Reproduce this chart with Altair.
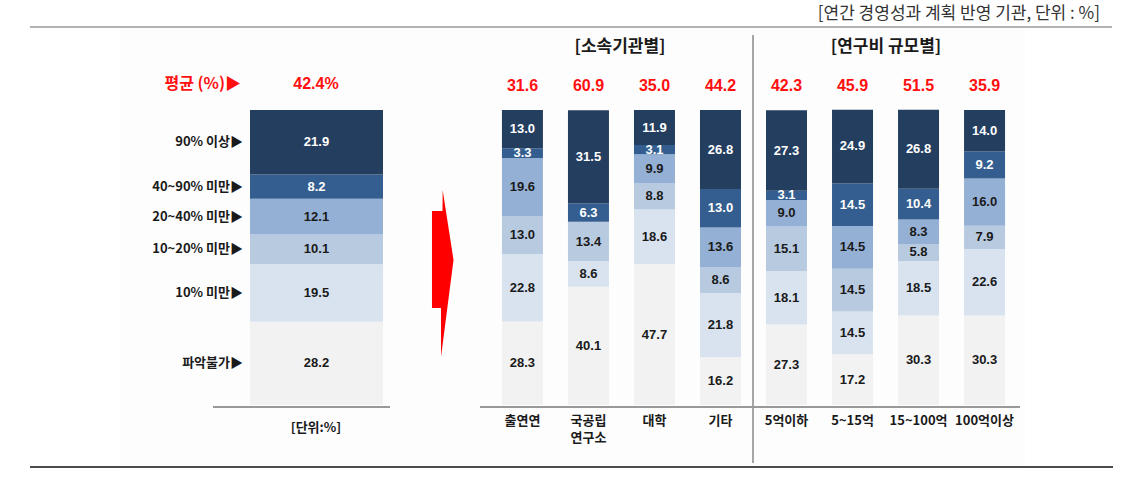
import altair as alt
import pandas as pd

# ---------------- data ----------------
levels = ["파악불가", "10% 미만", "10~20% 미만", "20~40% 미만", "40~90% 미만", "90% 이상"]  # bottom -> top
level_colors = ["#F2F2F2", "#D9E3F0", "#B8CADF", "#95B0D5", "#345E8F", "#243E5F"]

overall_values = [28.2, 19.5, 10.1, 12.1, 8.2, 21.9]
overall_avg = "42.4%"

orgs = ["출연연", "국공립연구소", "대학", "기타", "5억이하", "5~15억", "15~100억", "100억이상"]
org_labels = ["출연연", "국공립\n연구소", "대학", "기타", "5억이하", "5~15억", "15~100억", "100억이상"]
org_avgs = ["31.6", "60.9", "35.0", "44.2", "42.3", "45.9", "51.5", "35.9"]

v_chulyeon = [28.3, 22.8, 13.0, 19.6, 3.3, 13.0]
v_gukgong = [40.1, 8.6, 13.4, 0.0, 6.3, 31.5]
v_daehak = [47.7, 18.6, 8.8, 9.9, 3.1, 11.9]
v_gita = [16.2, 21.8, 8.6, 13.6, 13.0, 26.8]
v_5eok = [27.3, 18.1, 15.1, 9.0, 3.1, 27.3]
v_5_15 = [17.2, 14.5, 14.5, 14.5, 14.5, 24.9]
v_15_100 = [30.3, 18.5, 5.8, 8.3, 10.4, 26.8]
v_100 = [30.3, 22.6, 7.9, 16.0, 9.2, 14.0]
org_values = [v_chulyeon, v_gukgong, v_daehak, v_gita, v_5eok, v_5_15, v_15_100, v_100]

title_text = "[연간 경영성과 계획 반영 기관, 단위 : %]"
group_titles = ["[소속기관별]", "[연구비 규모별]"]

# ---------------- tables ----------------
left_df = pd.DataFrame({
    "grp": ["전체"] * len(levels),
    "level": levels,
    "order": list(range(len(levels))),
    "value": overall_values,
})
left_df["lab"] = [l + "▶" for l in levels]

rows = []
for o, vals in zip(orgs, org_values):
    for i, (lvl, v) in enumerate(zip(levels, vals)):
        rows.append({"org": o, "level": lvl, "order": i, "value": v})
right_df = pd.DataFrame(rows)
org_df = pd.DataFrame({"org": orgs, "label": org_labels, "avg": org_avgs})

FONT = "Liberation Sans, Noto Sans CJK KR, sans-serif"
KFONT = "Noto Sans CJK KR, Liberation Sans, sans-serif"

yscale = alt.Scale(domain=[0, 100], range=[405, 110], nice=False, zero=True)
color_scale = alt.Scale(domain=levels, range=level_colors)
lx = alt.Scale(type="band", domain=["전체"], range=[250, 383], paddingInner=0, paddingOuter=0)
rx = alt.Scale(type="band", domain=orgs, range=[480, 1027], paddingInner=0.38, paddingOuter=0.333)

dummy = alt.Data(values=[{"a": 1}])

def rule(x1, x2, y1, y2, color, w):
    return alt.Chart(dummy).mark_rule(color=color, strokeWidth=w).encode(
        x=alt.value(x1), x2=alt.value(x2), y=alt.value(y1), y2=alt.value(y2))

def label(txt, x, y, size, color="#1a1a1a", weight="bold", align="center", font=KFONT):
    return alt.Chart(dummy).mark_text(
        text=txt, fontSize=size, fontWeight=weight, color=color, align=align,
        baseline="middle", font=font).encode(x=alt.value(x), y=alt.value(y))

bg = alt.Chart(dummy).mark_rect(color="#FDFDFD").encode(
    x=alt.value(120), x2=alt.value(1025), y=alt.value(28), y2=alt.value(465))

# ---------------- left panel ----------------
left_bar = alt.Chart(left_df).mark_bar(size=133).encode(
    x=alt.X("grp:N", scale=lx, axis=None),
    y=alt.Y("value:Q", stack="zero", scale=yscale, axis=None),
    color=alt.Color("level:N", scale=color_scale, legend=None),
    order=alt.Order("order:Q"),
)
left_stack = alt.Chart(left_df).transform_stack(
    stack="value", groupby=["grp"], as_=["y0", "y1"], sort=[alt.SortField("order")]
).transform_calculate(mid="(datum.y0 + datum.y1) / 2")
left_vals = left_stack.mark_text(fontSize=13, fontWeight="bold", font=FONT, baseline="middle").encode(
    x=alt.X("grp:N", scale=lx, axis=None),
    y=alt.Y("mid:Q", scale=yscale, axis=None),
    text=alt.Text("value:Q", format=".1f"),
    color=alt.condition("datum.order >= 4", alt.value("white"), alt.value("#1a1a1a")),
)
left_cats = left_stack.mark_text(fontSize=13, fontWeight="bold", font=KFONT, align="right",
                                 baseline="middle", color="#1a1a1a").encode(
    x=alt.value(243),
    y=alt.Y("mid:Q", scale=yscale, axis=None),
    text="lab:N",
)

# ---------------- right panel ----------------
right_bar = alt.Chart(right_df).mark_bar(size=41).encode(
    x=alt.X("org:N", scale=rx, axis=None, sort=orgs),
    y=alt.Y("value:Q", stack="zero", scale=yscale, axis=None),
    color=alt.Color("level:N", scale=color_scale, legend=None),
    order=alt.Order("order:Q"),
)
right_vals = alt.Chart(right_df).transform_filter("datum.value > 0").transform_stack(
    stack="value", groupby=["org"], as_=["y0", "y1"], sort=[alt.SortField("order")]
).transform_calculate(mid="(datum.y0 + datum.y1) / 2").mark_text(
    fontSize=13, fontWeight="bold", font=FONT, baseline="middle").encode(
    x=alt.X("org:N", scale=rx, axis=None, sort=orgs),
    y=alt.Y("mid:Q", scale=yscale, axis=None),
    text=alt.Text("value:Q", format=".1f"),
    color=alt.condition("datum.order >= 4", alt.value("white"), alt.value("#1a1a1a")),
)
right_avg = alt.Chart(org_df).mark_text(fontSize=16, fontWeight="bold", font=FONT,
                                        color="#FF1010", baseline="middle").encode(
    x=alt.X("org:N", scale=rx, axis=None, sort=orgs),
    y=alt.value(86),
    text="avg:N",
)
right_xlab = alt.Chart(org_df).mark_text(fontSize=13, fontWeight="bold", font=KFONT,
                                         color="#1a1a1a", baseline="top", lineBreak="\n",
                                         lineHeight=17).encode(
    x=alt.X("org:N", scale=rx, axis=None, sort=orgs),
    y=alt.value(415),
    text="label:N",
)

# ---------------- arrow ----------------
arrow_path = ("M -0.004 -1 L 0.126 -0.162 L -0.024 1 L -0.024 0.413 L -0.132 0.413 "
              "L -0.132 -0.749 L -0.006 -0.749 Z")
arrow = alt.Chart(dummy).mark_point(shape=arrow_path, filled=True, size=27889,
                                    color="#FF0000", opacity=1, strokeWidth=0).encode(
    x=alt.value(443), y=alt.value(273.5))

chart = alt.layer(
    bg,
    rule(30, 1112, 27, 27, "#999999", 1.5),
    rule(30, 1113, 467, 467, "#111111", 1.5),
    rule(753, 753, 35, 463, "#A6A6A6", 2),
    label(title_text, 1100, 14, 17, color="#333333", weight="normal", align="right"),
    label(group_titles[0], 620, 47, 17),
    label(group_titles[1], 886, 47, 17),
    label("평균 (%)▶", 241, 84, 16, color="#FF1010", align="right"),
    label(overall_avg, 316, 84, 16, color="#FF1010", font=FONT),
    label("[단위:%]", 316, 428, 13),
    left_bar, left_vals, left_cats,
    right_bar, right_vals, right_avg, right_xlab,
    rule(213, 390, 407, 407, "#999999", 2),
    rule(480, 1020, 407, 407, "#999999", 2),
    arrow,
).resolve_scale(x="independent").properties(
    width=1139, height=490, autosize=alt.AutoSizeParams(type="none"), padding=0,
).configure_view(stroke=None)

chart.save("out.html", embed_options={"renderer": "svg", "actions": False})
